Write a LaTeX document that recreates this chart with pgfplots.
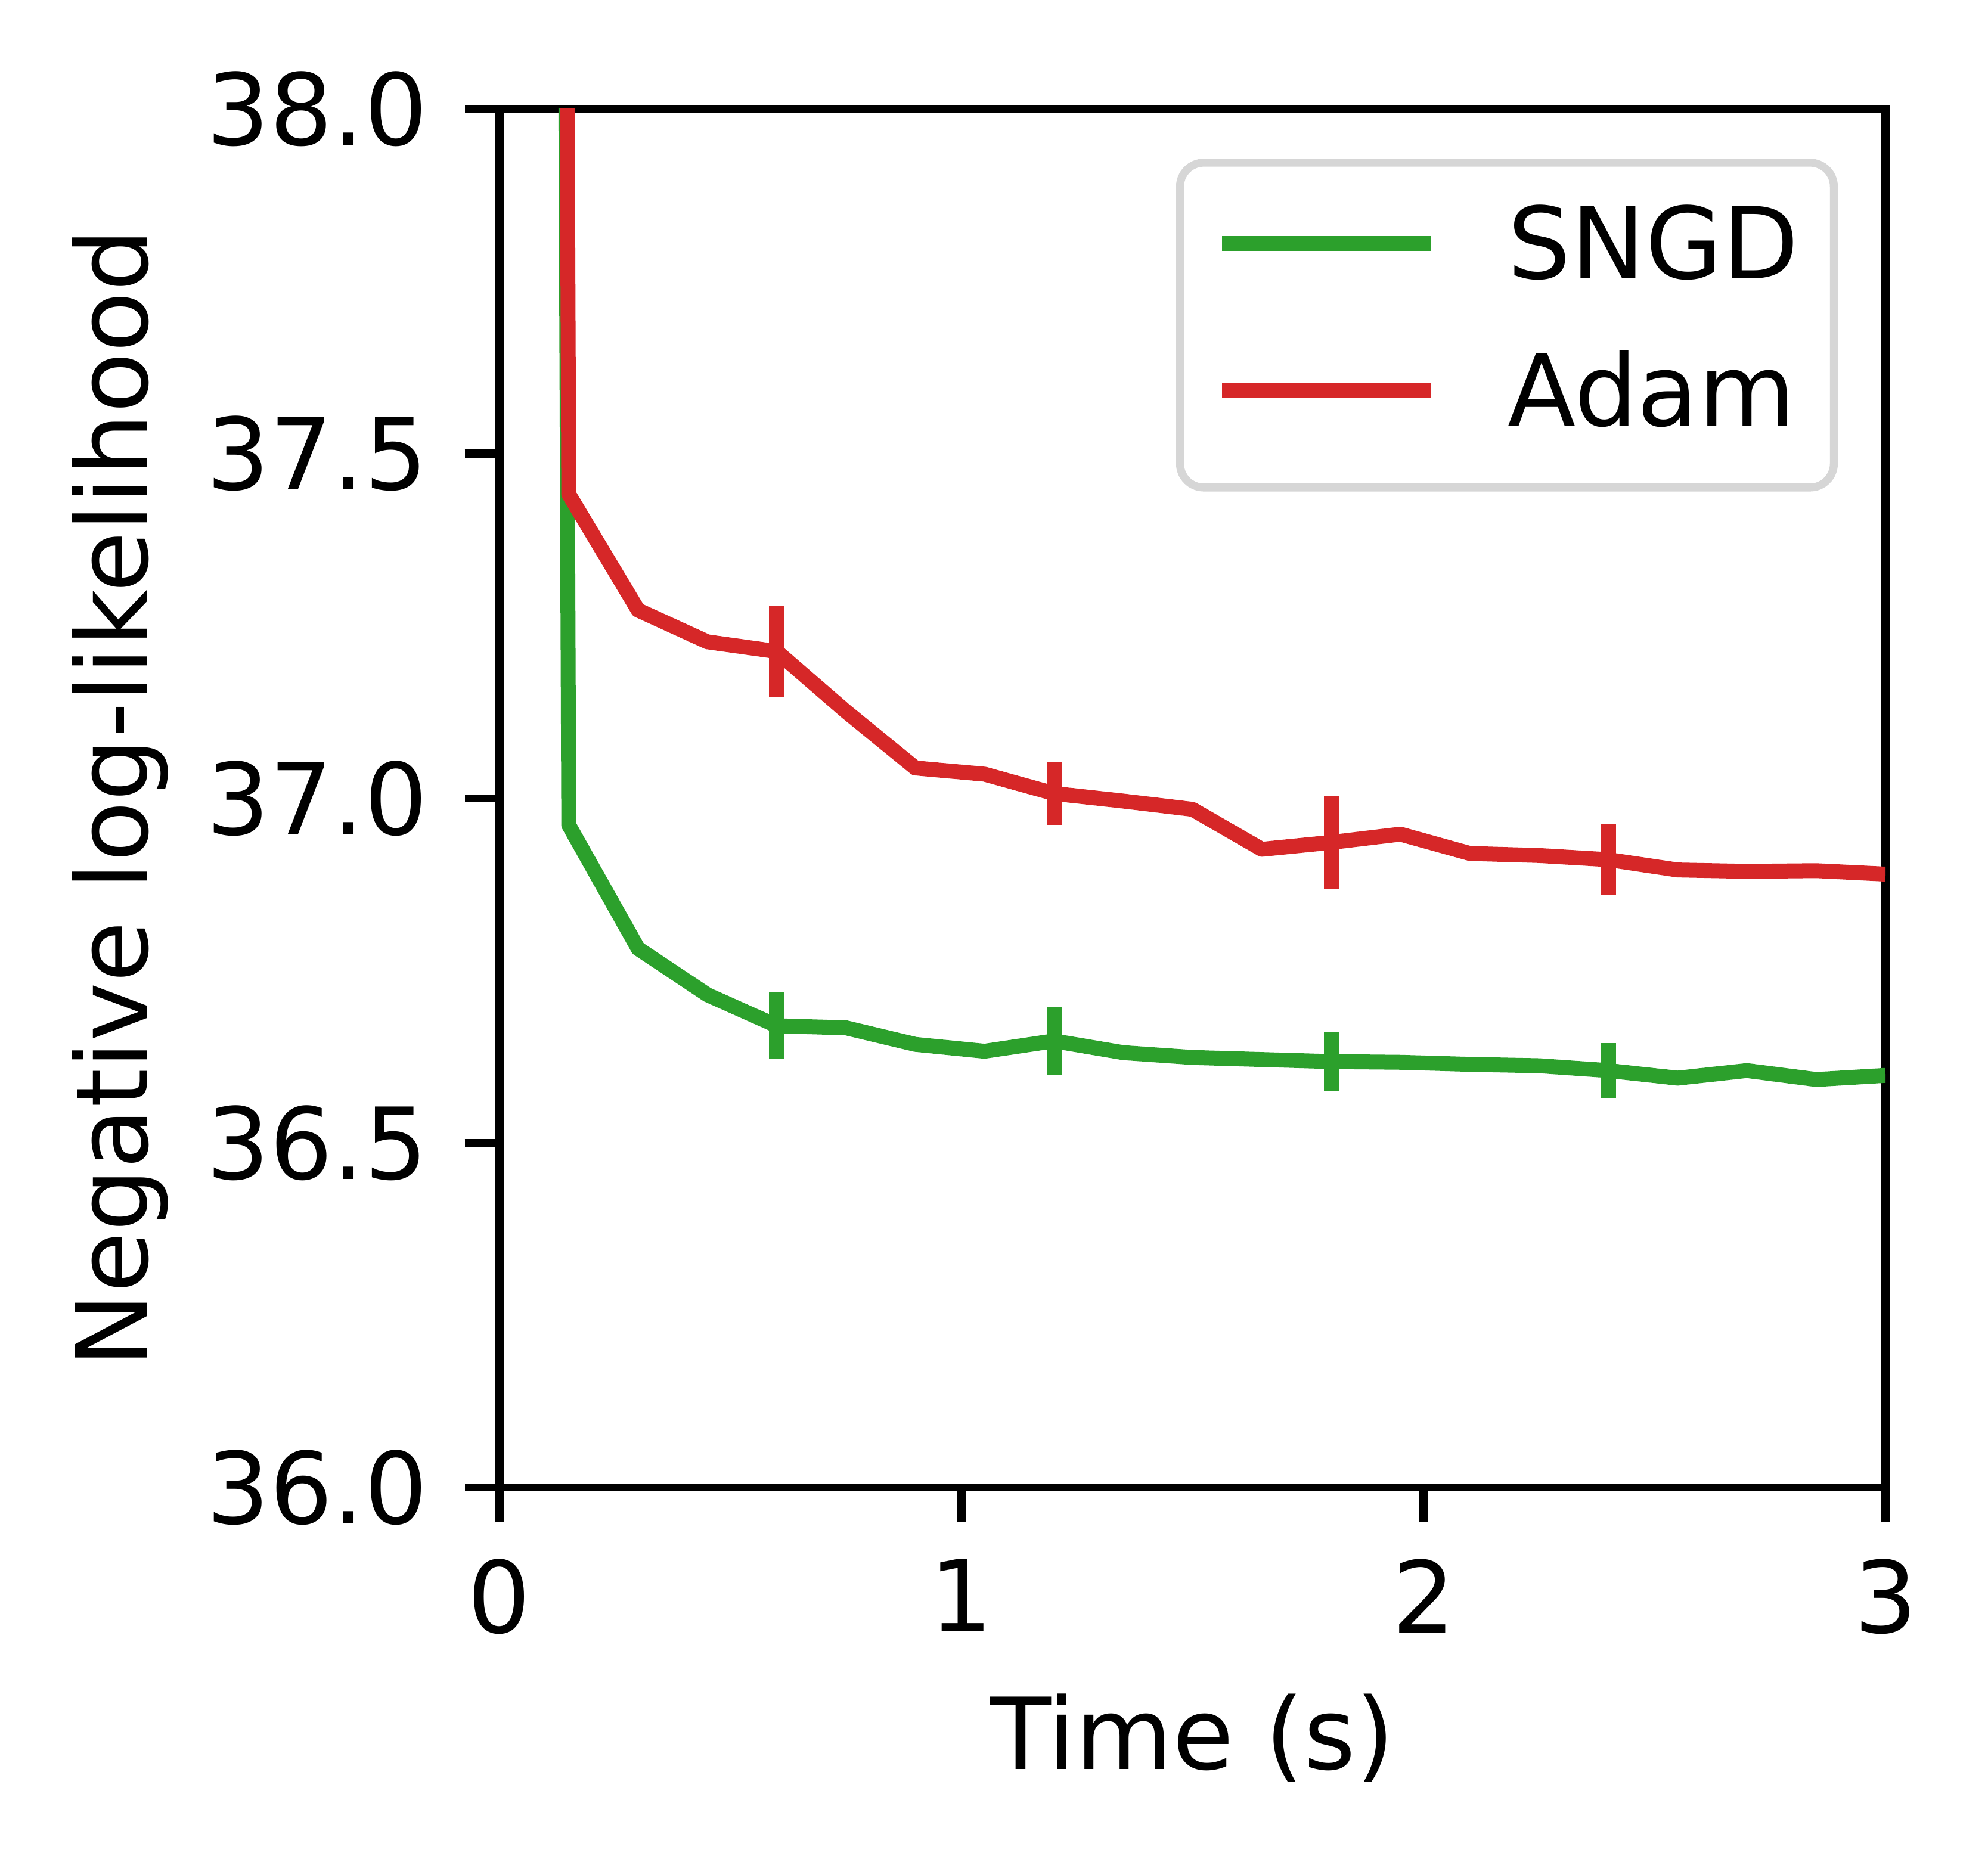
\documentclass[border=0pt]{standalone}
\usepackage{fontspec}
\setmainfont{DejaVu Sans}
\usepackage{pgfplots}
\pgfplotsset{compat=1.18}
\definecolor{mgreen}{HTML}{2CA02C}
\definecolor{mred}{HTML}{D62728}
\definecolor{legedge}{HTML}{D6D6D6}
\pgfplotstableread{
x y
0 62
0.15 36.961
0.30 36.782
0.45 36.715
0.60 36.670
0.75 36.667
0.90 36.643
1.05 36.633
1.20 36.648
1.35 36.631
1.50 36.624
1.65 36.621
1.80 36.618
1.95 36.617
2.10 36.614
2.25 36.612
2.40 36.605
2.55 36.594
2.70 36.605
2.85 36.592
3.00 36.598
}\sngd
\pgfplotstableread{
x y
0 62
0.15 37.441
0.30 37.273
0.45 37.227
0.60 37.213
0.75 37.126
0.90 37.044
1.05 37.035
1.20 37.007
1.35 36.996
1.50 36.984
1.65 36.926
1.80 36.936
1.95 36.948
2.10 36.920
2.25 36.917
2.40 36.911
2.55 36.896
2.70 36.894
2.85 36.895
3.00 36.890
}\adam
\pgfplotstableread{
x y e
0.60 36.670 0.048
1.20 36.648 0.050
1.80 36.618 0.043
2.40 36.605 0.040
}\sngderr
\pgfplotstableread{
x y e
0.60 37.213 0.066
1.20 37.007 0.046
1.80 36.936 0.0675
2.40 36.911 0.051
}\adamerr
\begin{document}
\begin{tikzpicture}[font=\fontsize{10}{12}\selectfont]
\begin{axis}[
  name=ax,
  scale only axis,
  width=139.44pt, height=138.7pt,
  xmin=0, xmax=3, ymin=36, ymax=38,
  xtick={0,1,2,3}, ytick={36,36.5,37,37.5,38},
  /pgf/number format/assume math mode=true,
  tick align=outside, xtick pos=lower, ytick pos=left,
  major tick length=3.5pt,
  every tick/.style={black, line width=0.8pt},
  axis line style={line width=0.8pt},
  xticklabel style={anchor=north, inner sep=0pt, yshift=-3.5pt},
  yticklabel style={anchor=east, inner sep=0pt, xshift=-3.5pt, /pgf/number format/fixed, /pgf/number format/fixed zerofill, /pgf/number format/precision=1},
  xlabel={Time (s)},
  ylabel={Negative log-likelihood},
  xlabel style={at={(axis description cs:0.5,-0.2043)}, anchor=base, inner sep=0pt},
  ylabel style={at={(axis description cs:-0.2539,0.5)}, anchor=base, inner sep=0pt},
  legend cell align=left,
  legend image code/.code={\draw[#1] (0pt,0.8pt) -- (21pt,0.8pt);},
  legend style={at={(1,1)}, anchor=north east, xshift=-4.8pt, yshift=-5.0pt,
    draw=legedge, line width=0.8pt, rounded corners=2.4pt, fill=white,
    inner xsep=3.5pt, inner ysep=4.4pt, row sep=5.7pt,
    nodes={inner sep=0pt, text height=7.29pt, text depth=1.8pt},
    /tikz/every odd column/.append style={column sep=7pt}},
]
\addplot[mgreen, line width=1.5pt, line join=round] table[x=x,y=y] {\sngd};
\addlegendentry{SNGD}
\addplot[mred, line width=1.5pt, line join=round] table[x=x,y=y] {\adam};
\addlegendentry{Adam}
\addplot[draw=none, forget plot, error bars/.cd, y dir=both, y explicit, error mark=none,
  error bar style={draw=mgreen, line width=1.5pt}] table[x=x,y=y,y error=e] {\sngderr};
\addplot[draw=none, forget plot, error bars/.cd, y dir=both, y explicit, error mark=none,
  error bar style={draw=mred, line width=1.5pt}] table[x=x,y=y,y error=e] {\adamerr};
\end{axis}
\pgfresetboundingbox
\path[use as bounding box] ([xshift=-50.25pt,yshift=-37.66pt]ax.south west) rectangle ([xshift=10.31pt,yshift=10.97pt]ax.north east);
\end{tikzpicture}
\end{document}
